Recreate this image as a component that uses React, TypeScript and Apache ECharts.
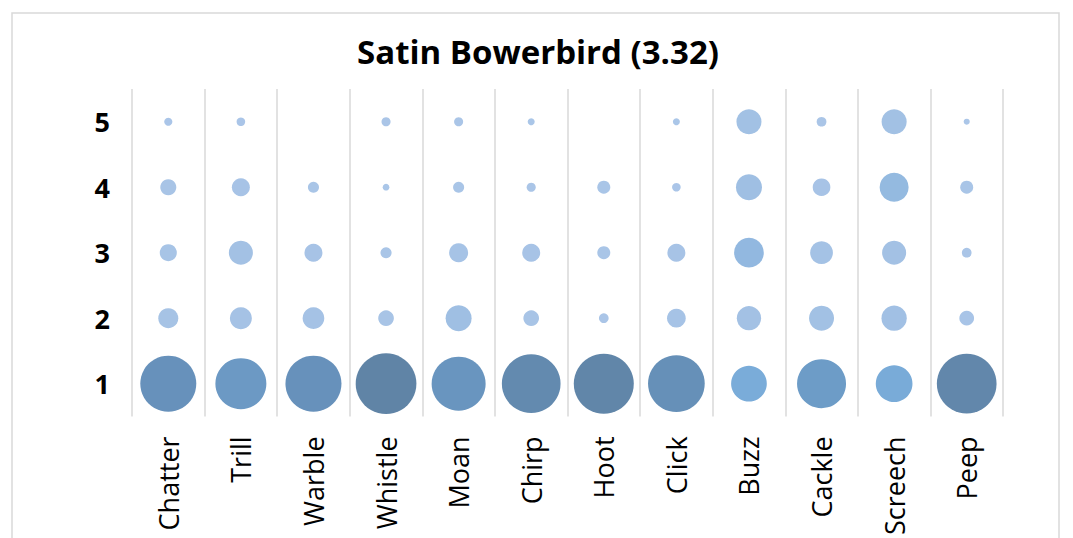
import React, { useEffect, useRef } from "react";
import * as echarts from "echarts";

const categories = ["Chatter", "Trill", "Warble", "Whistle", "Moan", "Chirp", "Hoot", "Click", "Buzz", "Cackle", "Screech", "Peep"];
const ratingLabels = ["1", "2", "3", "4", "5"];
// share of responses (%) for each rating, per call type
const rating1 = [76.6, 63.5, 76.6, 90.0, 71.2, 84.1, 87.9, 78.5, 31.1, 58.6, 32.9, 87.0];
const rating2 = [9.8, 11.8, 11.5, 6.0, 16.5, 6.0, 2.3, 8.5, 14.4, 15.3, 15.6, 5.3];
const rating3 = [7.1, 14.1, 7.9, 3.0, 8.8, 7.9, 4.1, 7.9, 21.5, 12.6, 14.1, 2.3];
const rating4 = [6.3, 7.9, 3.0, 1.1, 3.0, 2.0, 4.1, 1.8, 16.5, 7.6, 20.5, 4.1];
const rating5 = [1.6, 1.8, 0, 2.0, 2.0, 1.2, 0, 1.2, 15.3, 2.3, 15.3, 0.9];
const titleText = "Satin Bowerbird (3.32)";

const FONT = "'Open Sans', sans-serif";

export default function App() {
  const ref = useRef<HTMLDivElement>(null);
  useEffect(() => {
    if (!ref.current) return;
    const chart = echarts.init(ref.current, null, { renderer: "svg" });
    const rows = [rating1, rating2, rating3, rating4, rating5];
    const data: number[][] = [];
    rows.forEach((row, yi) => {
      row.forEach((v, xi) => {
        if (v > 0) data.push([xi, yi, v]);
      });
    });
    chart.setOption({
      animation: false,
      backgroundColor: "#ffffff",
      title: {
        text: titleText,
        left: 533,
        textAlign: "center",
        top: 30,
        textStyle: { fontFamily: FONT, fontSize: 33, fontWeight: "bold", color: "#000" },
      },
      graphic: [
        {
          type: "rect",
          shape: { x: 12, y: 13, width: 1047, height: 560 },
          style: { fill: "none", stroke: "#d9d9d9", lineWidth: 1.5 },
          silent: true,
        },
      ],
      grid: { left: 132, right: 70, top: 89, bottom: 120, containLabel: false },
      xAxis: {
        type: "category",
        data: categories,
        boundaryGap: true,
        axisLine: { show: false },
        axisTick: { show: false },
        splitLine: { show: true, lineStyle: { color: "#d9d9d9", width: 1.5 } },
        axisLabel: { rotate: 90, fontFamily: FONT, fontSize: 27, color: "#000", margin: 20, interval: 0 },
      },
      yAxis: {
        type: "category",
        data: ratingLabels,
        boundaryGap: true,
        axisLine: { show: false },
        axisTick: { show: false },
        splitLine: { show: false },
        axisLabel: { fontFamily: FONT, fontSize: 27, fontWeight: "bold", color: "#000", margin: 22 },
      },
      visualMap: {
        show: false,
        type: "continuous",
        dimension: 2,
        min: 0,
        max: 90,
        inRange: { color: ["#abc6e8", "#a3c1e4", "#7badda", "#72a2d1", "#6d9bc6", "#6893bd", "#6084a6"] },
      },
      series: [
        {
          type: "scatter",
          data,
          symbol: "circle",
          symbolSize: (v: number[]) => 6.4 * Math.sqrt(v[2]),
          itemStyle: { opacity: 1 },
        },
      ],
    });
    return () => chart.dispose();
  }, []);
  return (
    <div
      ref={ref}
      style={{ position: "absolute", left: 0, top: 0, width: 1073, height: 538, background: "#fff" }}
    />
  );
}
